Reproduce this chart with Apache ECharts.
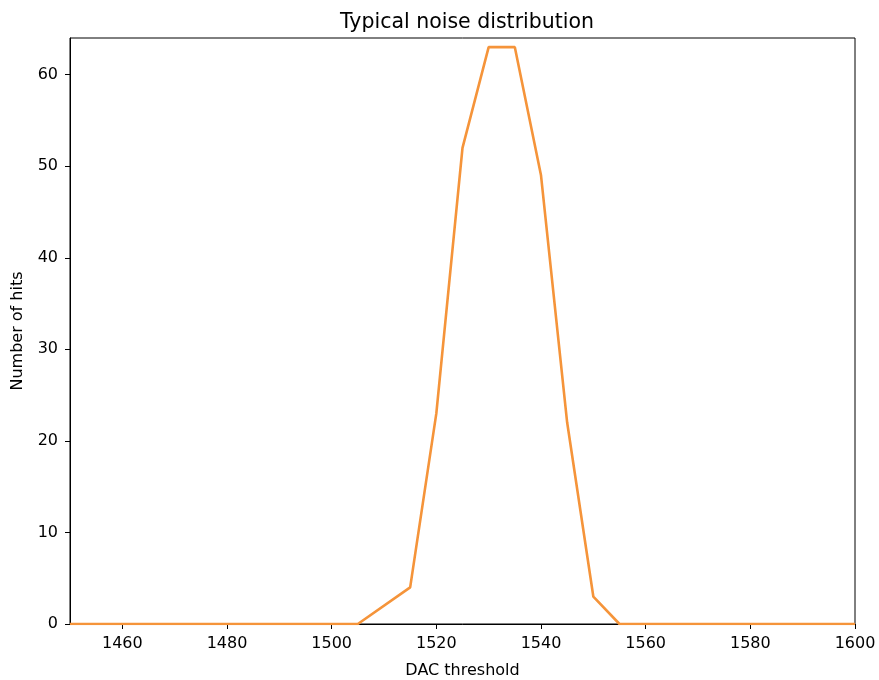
<!DOCTYPE html>
<html>
<head>
<meta charset="utf-8">
<script src="https://cdn.jsdelivr.net/npm/echarts@6/dist/echarts.min.js"></script>
<style>
  html, body { margin: 0; padding: 0; background: #fff; }
  #chart { width: 879px; height: 680px; }
</style>
</head>
<body>
<div id="chart"></div>
<script>
// DAC threshold values (x) and hit counts (y)
const thresholds = [1450, 1505, 1515, 1520, 1525, 1530, 1535, 1540, 1545, 1550, 1555, 1600];
const hits = [0, 0, 4, 23, 52, 63, 63, 49, 22, 3, 0, 0];
const xTicks = [1460, 1480, 1500, 1520, 1540, 1560, 1580, 1600];

const font = 'DejaVu Sans';
const points = thresholds.map((t, i) => [t, hits[i]]);

const chart = echarts.init(document.getElementById('chart'));
chart.setOption({
  backgroundColor: '#fff',
  animation: false,
  title: {
    text: 'Typical noise distribution',
    left: 462, top: 7,
    textAlign: 'center',
    textStyle: { fontFamily: font, fontSize: 20.5, fontWeight: 'normal', color: '#000' }
  },
  grid: {
    left: 70, right: 24, top: 38, bottom: 56,
    containLabel: false,
    outerBoundsMode: 'none',
    show: true, borderColor: '#000', borderWidth: 1, backgroundColor: 'transparent'
  },
  xAxis: {
    type: 'value',
    min: 1450, max: 1600,
    name: 'DAC threshold',
    nameLocation: 'middle',
    nameGap: 39,
    nameTextStyle: { fontFamily: font, fontSize: 16, color: '#000' },
    axisLine: { onZero: false, lineStyle: { color: '#000', width: 1 } },
    axisTick: { show: true, length: 5, lineStyle: { color: '#000' }, customValues: xTicks },
    axisLabel: {
      fontFamily: font, fontSize: 16, color: '#000', margin: 12,
      customValues: xTicks, formatter: v => String(v)
    },
    splitLine: { show: false }
  },
  yAxis: {
    type: 'value',
    min: 0, max: 64, interval: 10,
    name: 'Number of hits',
    nameLocation: 'middle',
    nameGap: 44,
    nameTextStyle: { fontFamily: font, fontSize: 16, color: '#000' },
    axisLine: { show: true, lineStyle: { color: '#000', width: 1 } },
    axisTick: { show: true, length: 5, lineStyle: { color: '#000' } },
    axisLabel: { fontFamily: font, fontSize: 16, color: '#000', margin: 12, showMaxLabel: false },
    splitLine: { show: false }
  },
  series: [{
    type: 'line',
    data: points,
    symbol: 'none',
    lineStyle: { color: '#f5943a', width: 2.6 },
    z: 5
  }]
});
</script>
</body>
</html>
